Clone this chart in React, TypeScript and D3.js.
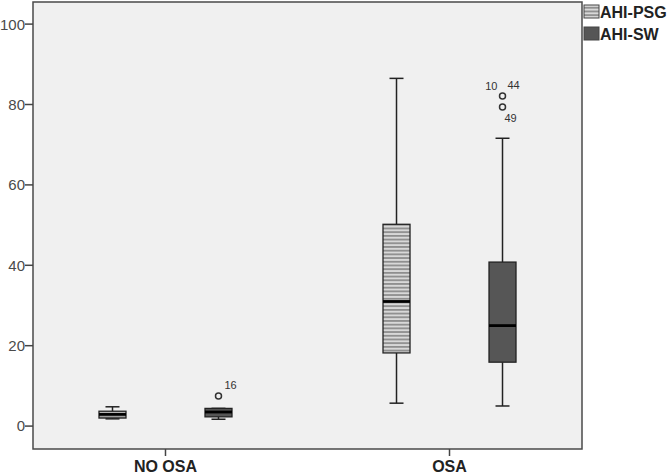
import React from 'react';
import * as d3 from 'd3';

// groups on the x axis and the two series in each group
const categories = ['NO OSA', 'OSA'];
const seriesNames = ['AHI-PSG', 'AHI-SW'];

// box stats per category, per series: [low whisker, q1, median, q3, high whisker]
const psgStats = [
  [1.8, 2.0, 2.9, 3.7, 4.8],
  [5.7, 18.2, 31.0, 50.2, 86.5],
];
const swStats = [
  [1.7, 2.3, 3.5, 4.4, 4.4],
  [5.0, 15.9, 25.0, 40.8, 71.6],
];

// outliers (only the SW series has them)
const swOutliers = [
  [{ value: 7.5, ids: ['16'] }],
  [
    { value: 82.1, ids: ['10', '44'] },
    { value: 79.4, ids: ['49'] },
  ],
];

const yTicks = [0, 20, 40, 60, 80, 100];

const W = 668;
const H = 474;
const FONT = "'Liberation Sans', Arial, sans-serif";

export default function App() {
  const plot = { left: 33, right: 582, top: 2, bottom: 449 };

  const y = d3.scaleLinear().domain([-5.7, 105.5]).range([plot.bottom, plot.top]);
  const x = d3.scalePoint().domain(categories).range([plot.left, plot.right]).padding(0.4665);
  const xs = d3.scalePoint().domain(seriesNames).range([-53, 53]);

  const boxW = 27;
  const capW = 14;

  const boxes: any[] = [];
  categories.forEach((c, ci) => {
    [psgStats, swStats].forEach((stats, si) => {
      const [lo, q1, med, q3, hi] = stats[ci];
      boxes.push({
        key: c + si,
        cx: (x(c) as number) + (xs(seriesNames[si]) as number),
        lo: y(lo), q1: y(q1), med: y(med), q3: y(q3), hi: y(hi),
        fill: si === 0 ? 'url(#hatch)' : '#565656',
        outliers: si === 1 ? swOutliers[ci] : [],
      });
    });
  });

  return (
    <svg width={W} height={H} style={{ position: 'absolute', left: 0, top: 0, background: '#fff' }}>
      <defs>
        <pattern id="hatch" patternUnits="userSpaceOnUse" width="6" height="3.7">
          <rect width="6" height="3.7" fill="#d8d8d8" />
          <rect y="2" width="6" height="1.5" fill="#808080" />
        </pattern>
      </defs>

      <rect x={plot.left} y={plot.top} width={plot.right - plot.left} height={plot.bottom - plot.top}
        fill="#f0f0f0" stroke="#4a4a4a" strokeWidth={1.5} />

      {/* y axis */}
      <g fontFamily={FONT} fontSize={15} fill="#4a4a4a">
        {yTicks.map(t => (
          <g key={t}>
            <line x1={plot.left - 8} x2={plot.left} y1={y(t)} y2={y(t)} stroke="#444" strokeWidth={1.5} />
            <text x={plot.left - 8} y={y(t)} dy="0.36em" textAnchor="end">{t}</text>
          </g>
        ))}
      </g>

      {/* x axis */}
      <g fontFamily={FONT} fontSize={16} fontWeight="bold" fill="#222">
        {categories.map(c => (
          <g key={c}>
            <line x1={x(c)} x2={x(c)} y1={plot.bottom} y2={plot.bottom + 7} stroke="#444" strokeWidth={1.5} />
            <text x={x(c)} y={472} textAnchor="middle">{c}</text>
          </g>
        ))}
      </g>

      {boxes.map(b => (
        <g key={b.key}>
          <line x1={b.cx} x2={b.cx} y1={b.hi} y2={b.q3} stroke="#222" strokeWidth={1.5} />
          <line x1={b.cx} x2={b.cx} y1={b.q1} y2={b.lo} stroke="#222" strokeWidth={1.5} />
          <line x1={b.cx - capW / 2} x2={b.cx + capW / 2} y1={b.hi} y2={b.hi} stroke="#222" strokeWidth={1.5} />
          <line x1={b.cx - capW / 2} x2={b.cx + capW / 2} y1={b.lo} y2={b.lo} stroke="#222" strokeWidth={1.5} />
          <rect x={b.cx - boxW / 2} y={b.q3} width={boxW} height={Math.max(b.q1 - b.q3, 1)}
            fill={b.fill} stroke="#222" strokeWidth={1.3} />
          <line x1={b.cx - boxW / 2} x2={b.cx + boxW / 2} y1={b.med} y2={b.med} stroke="#000" strokeWidth={2.8} />
          {b.outliers.map((o: any, oi: number) => {
            const oy = y(o.value);
            const below = oi > 0;
            return (
              <g key={oi}>
                <circle cx={b.cx} cy={oy} r={3} fill="none" stroke="#333" strokeWidth={1.5} />
                {o.ids.length > 1 ? (
                  <g fontFamily={FONT} fontSize={11} fill="#333">
                    <text x={b.cx - 5} y={oy - 6} textAnchor="end">{o.ids[0]}</text>
                    <text x={b.cx + 5} y={oy - 7}>{o.ids[1]}</text>
                  </g>
                ) : (
                  <text x={b.cx + (below ? 2 : 6)} y={oy + (below ? 15 : -7)} fontFamily={FONT} fontSize={11} fill="#333">
                    {o.ids[0]}
                  </text>
                )}
              </g>
            );
          })}
        </g>
      ))}

      {/* legend */}
      <g fontFamily={FONT} fontSize={16} fontWeight="bold" fill="#222">
        {seriesNames.map((s, i) => (
          <g key={s} transform={`translate(584, ${5 + i * 22})`}>
            <rect width={15} height={13} fill={i === 0 ? 'url(#hatch)' : '#565656'} stroke="#444" strokeWidth={1} />
            <text x={16} y={13}>{s}</text>
          </g>
        ))}
      </g>
    </svg>
  );
}
